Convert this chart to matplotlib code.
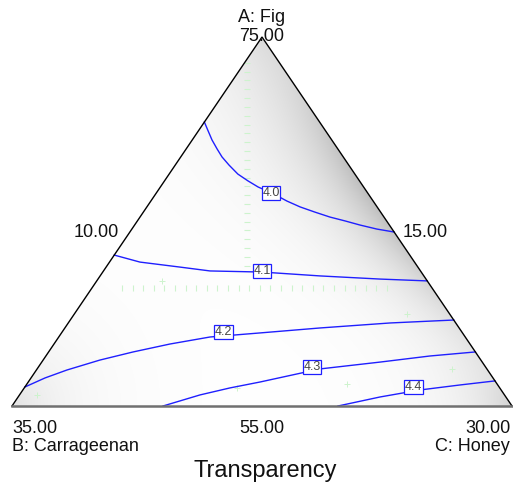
import numpy as np
import matplotlib
matplotlib.use("Agg")
import matplotlib.pyplot as plt
from matplotlib.patches import Polygon

plt.rcParams["font.family"] = ["Liberation Sans", "DejaVu Sans"]

# Component ranges (actual units, total = 100)
A_MIN, A_MAX = 55.0, 75.0   # Fig
B_MIN, B_MAX = 15.0, 35.0   # Carrageenan
C_MIN, C_MAX = 10.0, 30.0   # Honey
SPAN = 20.0

# Contour levels of Transparency, traced as (Fig, Honey) compositions
levels = ["4.0", "4.1", "4.2", "4.3", "4.4"]
fig_40 = [70.39, 69.91, 69.42, 68.93, 68.50, 68.06, 67.57, 67.20, 66.87,
          66.49, 66.11, 65.79, 65.51, 65.24, 65.03, 64.81, 64.59, 64.43]
hon_40 = [10.00, 10.39, 10.79, 11.24, 11.65, 12.15, 12.75, 13.34, 13.91,
          14.73, 15.44, 16.13, 16.86, 17.60, 18.31, 19.01, 19.80, 20.57]
fig_41 = [63.18, 62.80, 62.53, 62.32, 62.26, 62.05, 61.88, 61.78]
hon_41 = [10.00, 11.22, 12.95, 14.26, 16.37, 18.80, 21.28, 23.22]
fig_42 = [56.03, 56.52, 56.95, 57.49, 57.93, 58.36, 58.74, 58.96, 59.23, 59.50, 59.66]
hon_42 = [10.00, 10.56, 11.22, 12.27, 13.38, 14.64, 16.05, 17.94, 20.21, 22.87, 25.34]
fig_43 = [55.00, 55.60, 55.98, 56.30, 57.01, 57.38, 57.71, 57.93]
hon_43 = [16.04, 17.22, 18.23, 19.27, 21.32, 23.53, 25.36, 27.07]
fig_44 = [55.00, 55.49, 55.87, 56.14, 56.36]
hon_44 = [23.04, 24.48, 25.89, 27.35, 28.64]

# Label anchor compositions on each contour
label_fig = [66.54, 62.32, 59.01, 57.11, 56.03]
label_hon = [14.59, 16.34, 16.47, 20.94, 25.53]

contours_fig = [fig_40, fig_41, fig_42, fig_43, fig_44]
contours_hon = [hon_40, hon_41, hon_42, hon_43, hon_44]


def to_xy(fig_pct, honey_pct):
    """Pseudo-component ternary -> cartesian (B left, C right, A top)."""
    a = (np.asarray(fig_pct) - A_MIN) / SPAN
    c = (np.asarray(honey_pct) - C_MIN) / SPAN
    return c + a / 2.0, a


W, H = 513, 488
fig = plt.figure(figsize=(W / 100, H / 100), dpi=100)
# triangle spans px 12..512 horizontally, 37..406 vertically
ax = fig.add_axes([12 / W, (H - 406) / H, 500 / W, 369 / H])
ax.set_xlim(0, 1)
ax.set_ylim(0, 1)
ax.axis("off")

tri = Polygon([[0, 0], [1, 0], [0.5, 1]], closed=True, facecolor="none",
              edgecolor="none", transform=ax.transData)
ax.add_patch(tri)

# soft gray shading inside the triangle
gx, gy = np.meshgrid(np.linspace(0, 1, 400), np.linspace(0, 1, 400))
px = 12 + 500 * gx
py = 406 - 369 * gy
# distance to right edge (262,37)-(512,406)
ex, ey = 250.0, 369.0
norm = np.hypot(ex, ey)
d_right = np.abs(ey * (px - 262) - ex * (py - 37)) / norm
along = np.clip((py - 40) / 366, 0, 1)
w_right = np.exp(-((along - 0.42) / 0.33) ** 2) * 0.85 + 0.15
dark = np.exp(-d_right / 42.0) * w_right
dark += 0.45 * np.exp(-np.hypot(px - 12, py - 406) / 55.0)
dark += 0.5 * np.exp(-np.hypot(px - 512, py - 406) / 45.0)
dark += 0.25 * np.exp(-np.hypot(px - 262, py - 37) / 60.0)
dark = np.clip(dark, 0, 1)
shade = 1.0 - 0.25 * dark
img = ax.imshow(np.dstack([shade, shade, shade]), extent=[0, 1, 0, 1],
                origin="lower", interpolation="bilinear", zorder=0, aspect="auto")
img.set_clip_path(tri)

# faint green grid dashes
gcol = "#cdf3cd"
vy = np.linspace(0.38, 0.93, 24)
ax.plot(np.full_like(vy, 0.47), vy, ls="none", marker="_", ms=5, mew=0.8,
        color=gcol, zorder=1)
hx = np.linspace(0.22, 0.75, 26)
ax.plot(hx, np.full_like(hx, 0.32), ls="none", marker="|", ms=4, mew=0.8,
        color=gcol, zorder=1)
for cx, cy in [(0.05, 0.03), (0.45, 0.05), (0.67, 0.06),
               (0.88, 0.10), (0.79, 0.25), (0.30, 0.34)]:
    ax.plot(cx, cy, marker="+", ms=5, mew=0.7, color=gcol, zorder=1)

# contour lines
for fg, hn in zip(contours_fig, contours_hon):
    x, y = to_xy(fg, hn)
    ax.plot(x, y, color="#1f1fff", lw=1.0, zorder=3, clip_on=False,
            solid_joinstyle="round")

# contour labels
lx, ly = to_xy(label_fig, label_hon)
for lev, xx, yy in zip(levels, lx, ly):
    ax.text(xx, yy, lev, fontsize=9, color="#454545", ha="center",
            va="center", zorder=4,
            bbox=dict(boxstyle="square,pad=0.06", facecolor="white",
                      edgecolor="#1f1fff", linewidth=0.9))

# triangle edges
ax.plot([0, 0.5, 1], [0, 1, 0], color="black", lw=1.0, zorder=5,
        clip_on=False, solid_joinstyle="miter")
ax.plot([0, 1], [0, 0], color="#707070", lw=1.8, zorder=5, clip_on=False)

# vertex and edge labels
fs = 13


def ftext(x, y, s, **kw):
    fig.text(x / W, 1 - y / H, s, fontsize=kw.pop("size", fs),
             color="#111111", va="baseline", **kw)


ftext(262, 22, "A: Fig", ha="center")
ftext(262, 41, f"{A_MAX:.2f}", ha="center")
ftext(119, 237, f"{C_MIN:.2f}", ha="right")
ftext(403, 237, f"{B_MIN:.2f}", ha="left")
ftext(12, 433, f"{B_MAX:.2f}", ha="left")
ftext(262, 433, f"{A_MIN:.2f}", ha="center")
ftext(511, 433, f"{C_MAX:.2f}", ha="right")
ftext(12, 451, "B: Carrageenan", ha="left")
ftext(510, 451, "C: Honey", ha="right")
ftext(265, 477, "Transparency", ha="center", size=17)

fig.savefig("out.png", dpi=100, facecolor="white")
